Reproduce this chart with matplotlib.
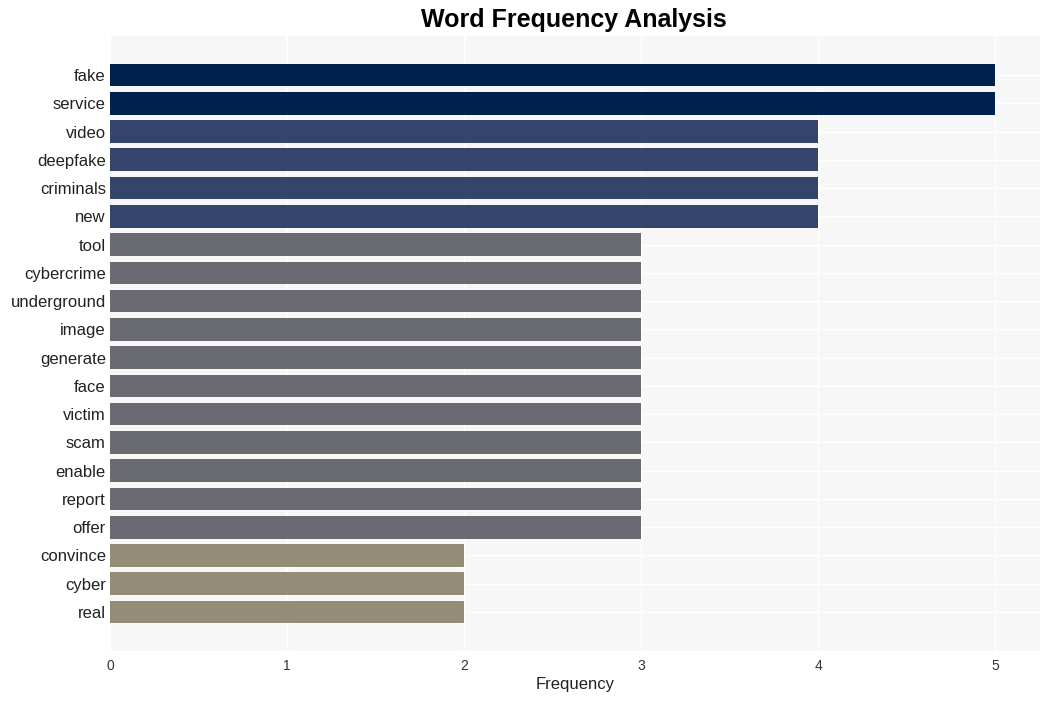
import matplotlib.pyplot as plt

# word counts
words = ['fake', 'service', 'video', 'deepfake', 'criminals', 'new', 'tool',
         'cybercrime', 'underground', 'image', 'generate', 'face', 'victim',
         'scam', 'enable', 'report', 'offer', 'convince', 'cyber', 'real']
counts = [5, 5, 4, 4, 4, 4, 3, 3, 3, 3, 3, 3, 3, 3, 3, 3, 3, 2, 2, 2]

COLORS = {5: '#00204e', 4: '#35446a', 3: '#696a72', 2: '#948c77'}

plt.rcParams['font.family'] = ['Liberation Sans', 'DejaVu Sans']

fig = plt.figure(figsize=(10.49, 7.01), dpi=100)
ax = fig.add_axes([110 / 1049, 50 / 701, 930 / 1049, 615 / 701])

ypos = list(range(len(words)))
ax.barh(ypos, counts, height=0.8, color=[COLORS[c] for c in counts], zorder=2)

ax.set_facecolor('#f7f7f7')
ax.set_xlim(0, 5.254)
ax.set_ylim(len(words) - 1 + 1.38, -1.38)
ax.set_yticks(ypos)
ax.set_yticklabels(words, fontsize=12, color='#222222')
ax.set_xticks(range(6))
ax.tick_params(axis='x', labelsize=10, colors='#333333', length=0, pad=6)
ax.tick_params(axis='y', length=0, pad=3)
ax.grid(True, color='white', linewidth=1, zorder=0)
for s in ax.spines.values():
    s.set_visible(False)

ax.set_xlabel('Frequency', fontsize=12, color='#222222', labelpad=3)
fig.text(0.547, 0.971, 'Word Frequency Analysis', ha='center', va='center',
         fontsize=18, fontweight='bold')

fig.savefig('out.png', dpi=100)
